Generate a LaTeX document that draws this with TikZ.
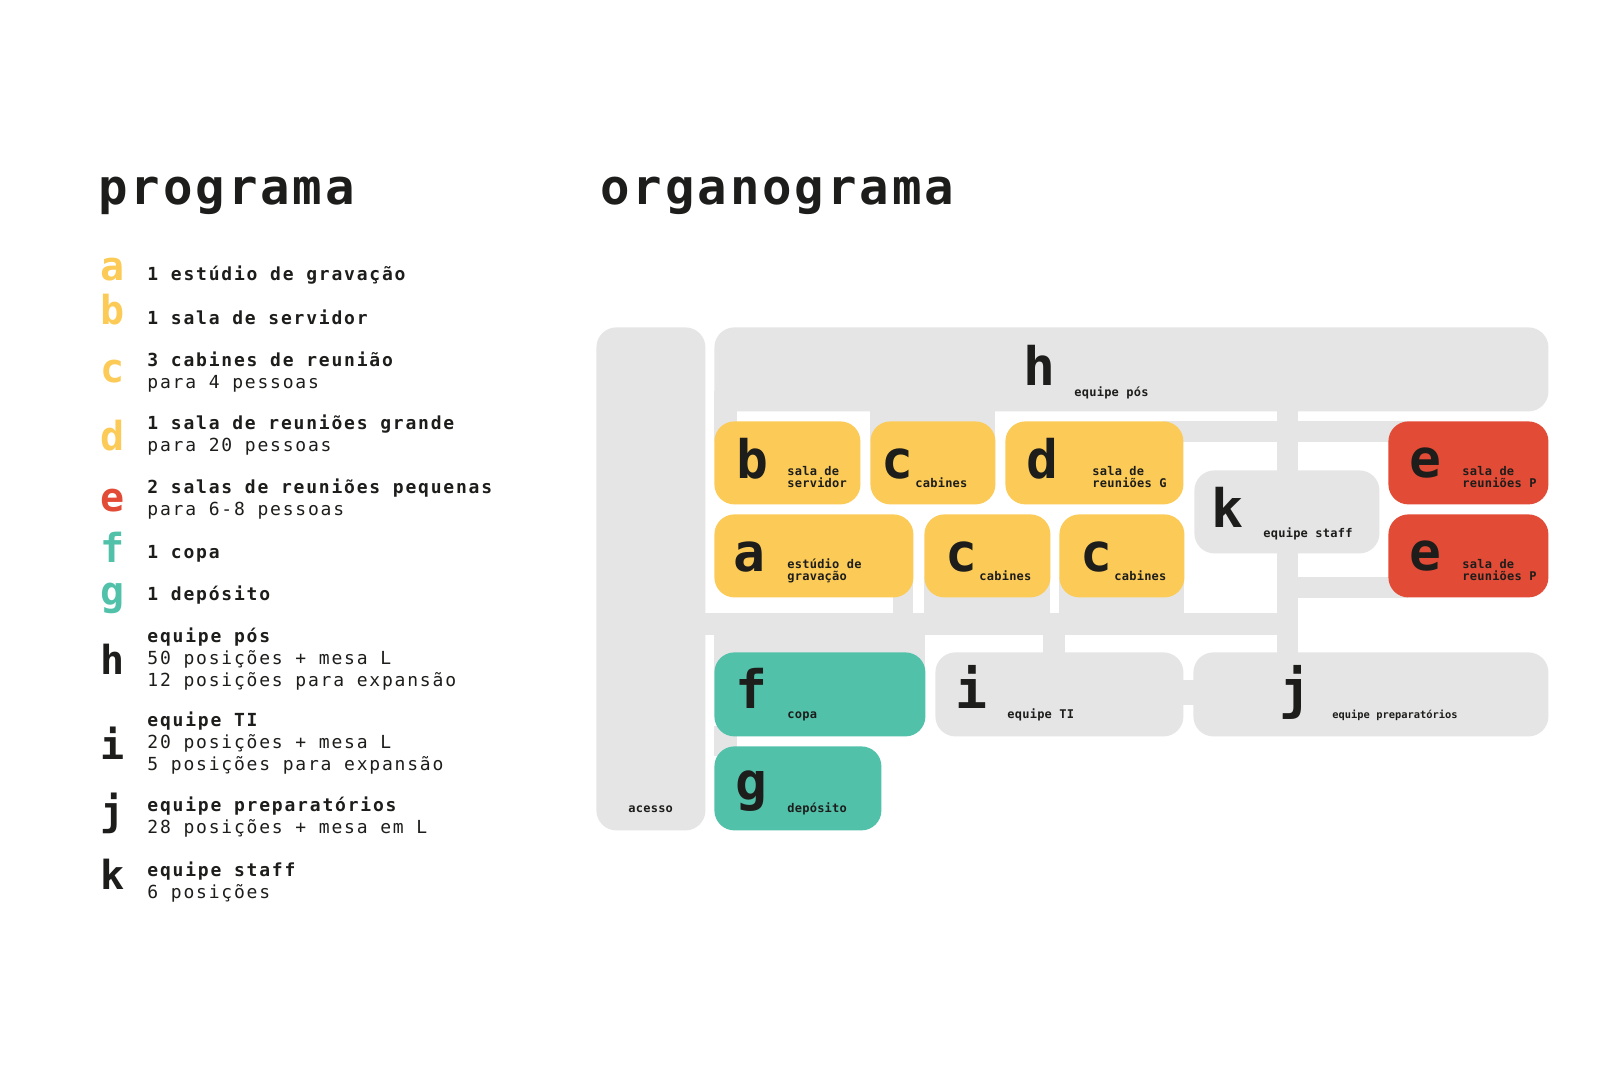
\documentclass[tikz,border=0pt]{standalone}
\usepackage{fontspec}
\setmainfont{DejaVu Sans Mono}
\newfontfamily\lsmono{DejaVu Sans Mono}[LetterSpace=10]
\newfontfamily\ttlmono{DejaVu Sans Mono}[LetterSpace=6]
\newfontfamily\labmono{DejaVu Sans Mono}[LetterSpace=2]
\definecolor{ylw}{HTML}{FCCB57}
\definecolor{rd}{HTML}{E24B36}
\definecolor{tl}{HTML}{52C1AA}
\definecolor{gr}{HTML}{E5E5E5}
\definecolor{ink}{HTML}{1D1D1B}
% stacked lines: first baseline is the node baseline
\newcommand\stackl[2]{\vtop{\baselineskip=#1\lineskiplimit=-30pt\lineskip=0pt #2}}
\begin{document}
\begin{tikzpicture}[x=0.5pt,y=-0.5pt,
  room/.style={rectangle, rounded corners=10pt, inner sep=0pt, anchor=north west, draw=none},
  conn/.style={fill=gr},
  bigl/.style={anchor=base west, inner sep=0pt, text=ink, font=\fontsize{26.5}{28}\selectfont\bfseries},
  lab/.style={anchor=base west, inner sep=0pt, text=ink, font=\labmono\fontsize{6}{7}\selectfont\bfseries},
  lett/.style={anchor=base west, inner sep=0pt, font=\fontsize{20}{22}\selectfont\bfseries},
  itm/.style={anchor=base west, inner sep=0pt, text=ink, font=\lsmono\fontsize{9}{11.2}\selectfont},
  ttl/.style={anchor=base west, inner sep=0pt, text=ink, font=\ttlmono\fontsize{24.5}{26}\selectfont\bfseries}]
\fill[white] (0,0) rectangle (1620,1080);
\useasboundingbox (0,0) rectangle (1620,1080);

% titles
\node[ttl] (t1) at (98,205) {programa};
\node[ttl] (t2) at (600,205) {organograma};

% programa list
\node[lett, text=ylw] (la) at (100,281) {a};
\node[itm] (ta) at (147,281) {\bfseries 1 estúdio de gravação};
\node[lett, text=ylw] (lb) at (100,325) {b};
\node[itm] (tb) at (147,324) {\bfseries 1 sala de servidor};
\node[lett, text=ylw] (lc) at (100,382) {c};
\node[itm] (tc) at (147,366) {\stackl{11.2pt}{\hbox{\bfseries 3 cabines de reunião}\hbox{para 4 pessoas}}};
\node[lett, text=ylw] (ld) at (100,450) {d};
\node[itm] (td) at (147,429) {\stackl{11.2pt}{\hbox{\bfseries 1 sala de reuniões grande}\hbox{para 20 pessoas}}};
\node[lett, text=rd] (le) at (100,511) {e};
\node[itm] (te) at (147,493) {\stackl{11.2pt}{\hbox{\bfseries 2 salas de reuniões pequenas}\hbox{para 6-8 pessoas}}};
\node[lett, text=tl] (lf) at (100,562) {f};
\node[itm] (tf) at (147,558) {\bfseries 1 copa};
\node[lett, text=tl] (lg) at (100,605) {g};
\node[itm] (tg) at (147,600) {\bfseries 1 depósito};
\node[lett, text=ink] (lh) at (100,674) {h};
\node[itm] (th) at (147,642) {\stackl{11.2pt}{\hbox{\bfseries equipe pós}\hbox{50 posições + mesa L}\hbox{12 posições para expansão}}};
\node[lett, text=ink] (li) at (100,759) {i};
\node[itm] (ti) at (147,726) {\stackl{11.2pt}{\hbox{\bfseries equipe TI}\hbox{20 posições + mesa L}\hbox{5 posições para expansão}}};
\node[lett, text=ink] (lj) at (100,825) {j};
\node[itm] (tj) at (147,811) {\stackl{11.2pt}{\hbox{\bfseries equipe preparatórios}\hbox{28 posições + mesa em L}}};
\node[lett, text=ink] (lk) at (100,889) {k};
\node[itm] (tk) at (147,876) {\stackl{11.2pt}{\hbox{\bfseries equipe staff}\hbox{6 posições}}};

% connectors (gray corridors)
\fill[conn] (714,391) rectangle (737,441);
\fill[conn] (870,391) rectangle (995,441);
\fill[conn] (1277,391) rectangle (1298,660);
\fill[conn] (1163,421) rectangle (1408,442);
\fill[conn] (1298,577) rectangle (1408,598);
\fill[conn] (893,577) rectangle (913,615);
\fill[conn] (924,577) rectangle (1050,615);
\fill[conn] (1059,577) rectangle (1184,615);
\fill[conn] (700,613) rectangle (1298,635);
\fill[conn] (714,633) rectangle (925,672);
\fill[conn] (1043,633) rectangle (1065,656);
\fill[conn] (1180,680) rectangle (1196,705);
\fill[conn] (714,726) rectangle (737,756);

% rooms
\node[room, fill=gr, minimum width=54.5pt, minimum height=251.5pt] (acc) at (596,327) {};
\node[room, fill=gr, minimum width=417pt, minimum height=42pt] (h) at (714,327) {};
\node[room, fill=gr, minimum width=92.5pt, minimum height=41.5pt] (k) at (1194,470) {};
\node[room, fill=gr, minimum width=124pt, minimum height=42pt] (i) at (935,652) {};
\node[room, fill=gr, minimum width=177.5pt, minimum height=42pt] (j) at (1193,652) {};
\node[room, fill=ylw, minimum width=73pt, minimum height=41.5pt] (b) at (714,421) {};
\node[room, fill=ylw, minimum width=62.5pt, minimum height=41.5pt] (c1) at (870,421) {};
\node[room, fill=ylw, minimum width=89pt, minimum height=41.5pt] (d) at (1005,421) {};
\node[room, fill=rd, minimum width=80pt, minimum height=41.5pt] (e1) at (1388,421) {};
\node[room, fill=ylw, minimum width=99.5pt, minimum height=41.5pt] (a) at (714,514) {};
\node[room, fill=ylw, minimum width=63pt, minimum height=41.5pt] (c2) at (924,514) {};
\node[room, fill=ylw, minimum width=62.5pt, minimum height=41.5pt] (c3) at (1059,514) {};
\node[room, fill=rd, minimum width=80pt, minimum height=41.5pt] (e2) at (1388,514) {};
\node[room, fill=tl, minimum width=105.5pt, minimum height=42pt] (f) at (714,652) {};
\node[room, fill=tl, minimum width=83.5pt, minimum height=42pt] (g) at (714,746) {};

% room labels
\node[bigl] (hl) at (1023,385) {h};
\node[lab] (hs) at (1074,396) {equipe pós};
\node[bigl] (bl) at (736,478) {b};
\node[lab] (bs) at (787,475) {\stackl{6pt}{\hbox{sala de}\hbox{servidor}}};
\node[bigl] (c1l) at (881,478) {c};
\node[lab] (c1s) at (915,487) {cabines};
\node[bigl] (dl) at (1026,478) {d};
\node[lab] (ds) at (1092,475) {\stackl{6pt}{\hbox{sala de}\hbox{reuniões G}}};
\node[bigl] (e1l) at (1409,477) {e};
\node[lab] (e1s) at (1462,475) {\stackl{6pt}{\hbox{sala de}\hbox{reuniões P}}};
\node[bigl] (kl) at (1211,527) {k};
\node[lab] (ks) at (1263,537) {equipe staff};
\node[bigl] (al) at (733,571) {a};
\node[lab] (as) at (787,568) {\stackl{6pt}{\hbox{estúdio de}\hbox{gravação}}};
\node[bigl] (c2l) at (945,571) {c};
\node[lab] (c2s) at (979,580) {cabines};
\node[bigl] (c3l) at (1080,571) {c};
\node[lab] (c3s) at (1114,580) {cabines};
\node[bigl] (e2l) at (1409,570) {e};
\node[lab] (e2s) at (1462,568) {\stackl{6pt}{\hbox{sala de}\hbox{reuniões P}}};
\node[bigl] (fl) at (735,708) {f};
\node[lab] (fs) at (787,718) {copa};
\node[bigl] (il) at (955,708) {i};
\node[lab] (is) at (1007,718) {equipe TI};
\node[bigl] (jl) at (1279,708) {j};
\node[lab, font=\fontsize{5.2}{6}\selectfont\bfseries] (js) at (1332,718) {equipe preparatórios};
\node[bigl] (gl) at (735,800) {g};
\node[lab] (gs) at (787,812) {depósito};
\node[lab] (accs) at (628,812) {acesso};
\end{tikzpicture}
\end{document}
